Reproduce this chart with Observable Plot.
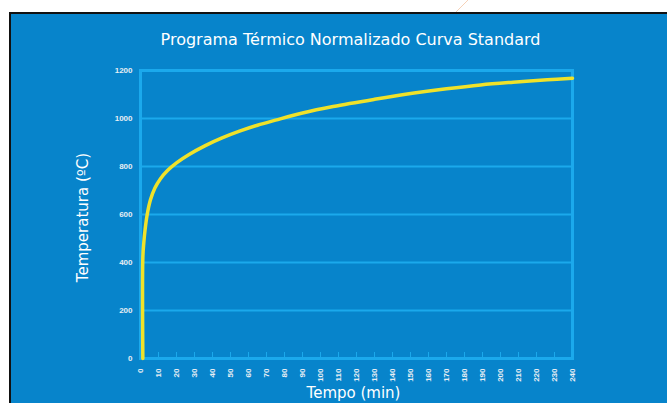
<!DOCTYPE html>
<html>
<head>
<meta charset="utf-8">
<script src="https://cdn.jsdelivr.net/npm/d3@7"></script>
<script src="https://cdn.jsdelivr.net/npm/@observablehq/plot@0.6"></script>
<style>
  html, body { margin: 0; padding: 0; background: #ffffff; }
  #wrap { position: relative; width: 667px; height: 403px; overflow: hidden; }
  #panel { position: absolute; left: 9px; top: 12px; width: 658px; height: 391px;
           background: #0784cb; border-left: 2px solid #111; border-top: 2px solid #111; }
  #deco { position: absolute; left: 0; top: 0; }
  #chart { position: absolute; left: 0; top: 0; }
</style>
</head>
<body>
<div id="wrap">
  <svg id="deco" width="667" height="403">
    <line x1="468" y1="0" x2="455" y2="13" stroke="#f6d2b8" stroke-width="1"/>
  </svg>
  <div id="panel"></div>
  <div id="chart"></div>
</div>
<script>
// Time (min) and temperature (ºC)
const tempo = [1.3, 1.3, 1.8, 2.6, 3.7, 5.5, 8, 11, 15, 20, 27, 36, 45, 55, 65, 75, 90, 107, 130, 152, 170, 189, 207, 226, 240];
const temperatura = [0, 420, 480, 540, 599, 660, 710, 748, 783, 815, 850, 887, 918, 947, 972, 993, 1023, 1050, 1080, 1106, 1124, 1140, 1151, 1161, 1168];

const xTicks = d3.range(0, 241, 10);
const yTicks = [0, 200, 400, 600, 800, 1000, 1200];
const gridValues = [200, 400, 600, 800, 1000];
const innerTicks = d3.range(10, 231, 10);

const title = "Programa Térmico Normalizado Curva Standard";
const xLabel = "Tempo (min)";
const yLabel = "Temperatura (ºC)";

const data = tempo.map((t, i) => ({t, T: temperatura[i]}));

const lightBlue = "#1ba9ec";

const chart = Plot.plot({
  width: 667,
  height: 403,
  marginLeft: 140,
  marginRight: 95,
  marginTop: 70,
  marginBottom: 45,
  style: {background: "transparent", color: "#ffffff"},
  x: {domain: [0, 240]},
  y: {domain: [0, 1200]},
  marks: [
    Plot.gridY(gridValues, {stroke: lightBlue, strokeOpacity: 1, strokeWidth: 2}),
    Plot.tickX(innerTicks, {x: d => d, stroke: lightBlue, strokeWidth: 1, insetTop: 282}),
    Plot.frame({stroke: lightBlue, strokeWidth: 3}),
    Plot.line(data, {x: "t", y: "T", stroke: "#efe22a", strokeWidth: 3.5, curve: "catmull-rom"}),
    Plot.axisY({ticks: yTicks, tickFormat: d => String(d), tickSize: 0, tickPadding: 8, fontSize: 8, fontWeight: "bold",
      fontFamily: "Liberation Sans, Arial, sans-serif", fill: "#e8eef4", label: null}),
    Plot.axisX({ticks: xTicks, tickFormat: d => String(d), tickSize: 0, tickPadding: 10, tickRotate: -90, fontSize: 8, fontWeight: "bold",
      fontFamily: "Liberation Sans, Arial, sans-serif", fill: "#e8eef4", label: null}),
    Plot.text([title], {frameAnchor: "top", lineAnchor: "middle", textAnchor: "middle", dy: -31, dx: -6,
      fill: "#ffffff", fontSize: 16, fontFamily: "DejaVu Sans, sans-serif"}),
    Plot.text([yLabel], {frameAnchor: "left", textAnchor: "middle", lineAnchor: "middle", rotate: -90, dx: -57, dy: 3,
      fill: "#ffffff", fontSize: 15, fontFamily: "DejaVu Sans, sans-serif"}),
    Plot.text([xLabel], {frameAnchor: "bottom", textAnchor: "middle", lineAnchor: "middle", dy: 35, dx: -3,
      fill: "#ffffff", fontSize: 15, fontFamily: "DejaVu Sans, sans-serif"})
  ]
});
document.getElementById("chart").appendChild(chart);
</script>
</body>
</html>
